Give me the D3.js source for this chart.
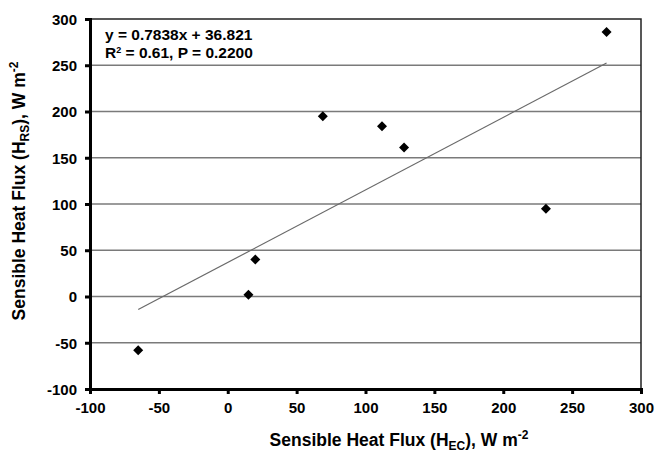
<!DOCTYPE html>
<html>
<head>
<meta charset="utf-8">
<script src="https://cdn.jsdelivr.net/npm/d3@7"></script>
<style>
  body { margin: 0; background: #fff; }
  text { font-family: "Liberation Sans", Arial, sans-serif; font-weight: bold; fill: #000; }
</style>
</head>
<body>
<svg id="chart" width="655" height="454"></svg>
<script>
// sensible heat flux, eddy covariance (x) vs remote sensing (y)
const hecValues = [-65, 15, 20, 69, 112, 128, 231, 275];
const hrsValues = [-58, 2, 40, 195, 184, 161, 95, 286];
const xTicks = [-100, -50, 0, 50, 100, 150, 200, 250, 300];
const yTicks = [-100, -50, 0, 50, 100, 150, 200, 250, 300];
const slope = 0.7838;
const intercept = 36.821;
const fitLabel = 'y = 0.7838x + 36.821';

const svg = d3.select('#chart');
const margin = { top: 19, right: 14, bottom: 65, left: 90 };
const width = +svg.attr('width') - margin.left - margin.right;
const height = +svg.attr('height') - margin.top - margin.bottom;

const x = d3.scaleLinear().domain([-100, 300]).range([0, width]);
const y = d3.scaleLinear().domain([-100, 300]).range([height, 0]);

const g = svg.append('g')
  .attr('transform', `translate(${margin.left},${margin.top})`);

// horizontal grid
g.append('g')
  .selectAll('line')
  .data(yTicks.filter(d => d > -100 && d < 300))
  .enter()
  .append('line')
  .attr('x1', 0)
  .attr('x2', width)
  .attr('y1', d => y(d))
  .attr('y2', d => y(d))
  .attr('stroke', '#7a7a7a')
  .attr('stroke-width', 1.3);

// frame top / right
g.append('path')
  .attr('d', `M0,0H${width}V${height}`)
  .attr('fill', 'none')
  .attr('stroke', '#222')
  .attr('stroke-width', 1.5);

// regression line across data range
const xr = d3.extent(hecValues);
g.append('line')
  .attr('x1', x(xr[0]))
  .attr('y1', y(slope * xr[0] + intercept))
  .attr('x2', x(xr[1]))
  .attr('y2', y(slope * xr[1] + intercept))
  .attr('stroke', '#6a6a6a')
  .attr('stroke-width', 1.2);

// points
const pts = hecValues.map((d, i) => ({ x: d, y: hrsValues[i] }));
g.append('g')
  .selectAll('path')
  .data(pts)
  .enter()
  .append('path')
  .attr('transform', d => `translate(${x(d.x)},${y(d.y)})`)
  .attr('d', 'M0,-5L5,0L0,5L-5,0Z')
  .attr('fill', '#000');

// axes
const xAxis = g.append('g')
  .attr('transform', `translate(0,${height})`)
  .call(d3.axisBottom(x).tickValues(xTicks).tickSize(5).tickPadding(8).tickFormat(d => String(d)));
const yAxis = g.append('g')
  .call(d3.axisLeft(y).tickValues(yTicks).tickSize(5).tickPadding(8).tickFormat(d => String(d)));

[xAxis, yAxis].forEach(a => {
  a.select('.domain').attr('stroke', '#000').attr('stroke-width', 3);
  a.selectAll('.tick line').attr('stroke', '#000').attr('stroke-width', 3);
  a.selectAll('.tick text')
    .style('font-family', '"Liberation Sans", Arial, sans-serif')
    .style('font-weight', 'bold')
    .style('font-size', '15px')
    .attr('fill', '#000');
});
yAxis.selectAll('.tick text').attr('dy', '0.36em');

// fit equation
const eq = g.append('text')
  .attr('x', 15)
  .attr('y', 21)
  .style('font-size', '15.5px');
eq.append('tspan').text(fitLabel);
const eq2 = g.append('text')
  .attr('x', 15)
  .attr('y', 39)
  .style('font-size', '15.5px');
eq2.append('tspan').text('R');
eq2.append('tspan').attr('dy', -5).style('font-size', '9px').text('2');
eq2.append('tspan').attr('dy', 5).text(' = 0.61, P = 0.2200');

// axis titles
const xt = svg.append('text')
  .attr('x', 399)
  .attr('y', 446)
  .attr('text-anchor', 'middle')
  .style('font-size', '17.5px');
xt.append('tspan').text('Sensible Heat Flux (H');
xt.append('tspan').attr('dy', 4).style('font-size', '12px').text('EC');
xt.append('tspan').attr('dy', -4).text('), W m');
xt.append('tspan').attr('dy', -7).style('font-size', '12px').text('-2');

const yt = svg.append('text')
  .attr('transform', 'translate(25,191) rotate(-90)')
  .attr('text-anchor', 'middle')
  .style('font-size', '17.5px');
yt.append('tspan').text('Sensible Heat Flux (H');
yt.append('tspan').attr('dy', 4).style('font-size', '12px').text('RS');
yt.append('tspan').attr('dy', -4).text('), W m');
yt.append('tspan').attr('dy', -7).style('font-size', '12px').text('-2');
</script>
</body>
</html>
